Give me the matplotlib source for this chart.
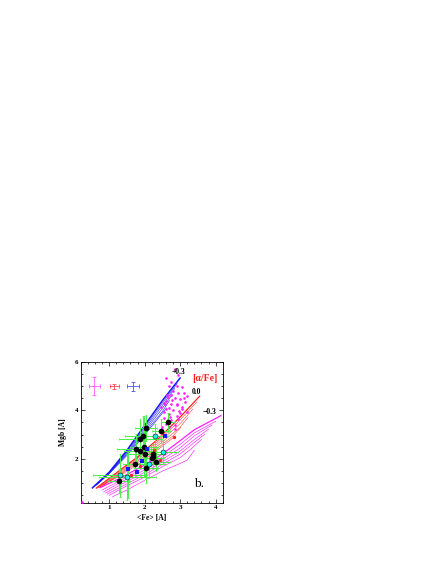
import numpy as np
import matplotlib
matplotlib.use("Agg")
import matplotlib.pyplot as plt

plt.rcParams['font.family'] = ['Liberation Serif', 'DejaVu Serif']

# model grids, one list per line: first entry of each family is the heavy one
blue_x = [
    [0.53, 1.0, 1.5, 2.0, 2.5, 3.0],
    [0.55, 1.0, 1.5, 2.0, 2.5, 2.92],
    [0.58, 1.0, 1.5, 2.0, 2.5, 2.85],
    [0.62, 1.0, 1.5, 2.0, 2.5, 2.78],
    [0.66, 1.0, 1.5, 2.0, 2.5, 2.7],
    [0.7, 1.0, 1.5, 2.0, 2.4, 2.62],
]
blue_y = [
    [0.81, 1.45, 2.35, 3.38, 4.4, 5.33],
    [0.83, 1.43, 2.3, 3.3, 4.3, 5.1],
    [0.86, 1.42, 2.26, 3.22, 4.2, 4.9],
    [0.9, 1.41, 2.22, 3.14, 4.08, 4.65],
    [0.95, 1.4, 2.18, 3.06, 3.95, 4.4],
    [1.0, 1.39, 2.14, 2.98, 3.7, 4.1],
]
red_x = [
    [0.64, 1.2, 1.8, 2.4, 3.0, 3.55],
    [0.68, 1.2, 1.8, 2.4, 3.0, 3.48],
    [0.72, 1.2, 1.8, 2.4, 3.0, 3.36],
    [0.76, 1.2, 1.8, 2.4, 3.0, 3.22],
    [0.8, 1.2, 1.8, 2.4, 2.8, 3.02],
    [0.85, 1.2, 1.8, 2.3, 2.7, 2.87],
]
red_y = [
    [0.8, 1.42, 2.08, 2.85, 3.72, 4.58],
    [0.8, 1.37, 2.02, 2.76, 3.6, 4.35],
    [0.82, 1.32, 1.96, 2.67, 3.45, 4.05],
    [0.85, 1.28, 1.9, 2.58, 3.3, 3.7],
    [0.9, 1.25, 1.84, 2.48, 2.95, 3.3],
    [0.95, 1.22, 1.76, 2.3, 2.75, 2.95],
]
mag_x = [
    [0.75, 1.3, 2.0, 2.5, 3.0, 3.4, 4.15],
    [0.8, 1.3, 2.0, 2.5, 3.0, 3.4, 4.0],
    [0.85, 1.3, 2.0, 2.5, 3.0, 3.4, 3.9],
    [0.9, 1.3, 2.0, 2.5, 3.0, 3.4, 3.8],
    [0.95, 1.4, 2.0, 2.5, 3.0, 3.4, 3.7],
    [1.0, 1.4, 2.0, 2.5, 3.0, 3.3, 3.6],
    [1.1, 1.5, 2.0, 2.5, 2.9, 3.2, 3.4],
]
mag_y = [
    [0.82, 1.2, 1.75, 2.2, 2.75, 3.2, 3.78],
    [0.72, 1.1, 1.65, 2.08, 2.6, 3.07, 3.55],
    [0.65, 1.02, 1.55, 1.98, 2.45, 2.95, 3.4],
    [0.6, 0.92, 1.45, 1.88, 2.32, 2.8, 3.22],
    [0.55, 0.9, 1.35, 1.78, 2.2, 2.68, 3.02],
    [0.5, 0.82, 1.25, 1.68, 2.05, 2.4, 2.8],
    [0.45, 0.72, 1.12, 1.5, 1.75, 1.95, 2.35],
]

# scatter of small magenta points
pts_x = [0.25, 2.6, 2.75, 2.85, 2.95, 2.7, 2.9, 3.05, 2.8, 2.95, 3.1, 3.2, 2.65, 2.85, 3.0,
         3.15, 2.55, 2.75, 2.9, 3.05, 2.6, 2.8, 3.0, 2.7, 2.9, 2.55, 2.75, 2.95, 2.6, 2.5,
         2.7, 2.85, 3.2, 3.05, 2.6, 2.45, 2.75, 2.55, 2.65, 2.85, 2.78, 2.92, 2.62, 2.68, 3.1,
         2.97, 2.72, 2.58]
pts_y = [0.22, 5.35, 5.15, 5.7, 5.45, 5.0, 5.0, 4.95, 4.8, 4.7, 4.72, 4.6, 4.55, 4.5, 4.45,
         4.35, 4.3, 4.25, 4.2, 4.15, 4.05, 4.0, 3.9, 3.85, 3.75, 3.7, 3.6, 3.65, 3.45, 3.3,
         3.3, 3.4, 3.95, 4.05, 4.4, 4.15, 4.65, 3.95, 3.6, 3.25, 4.42, 4.28, 4.62, 4.1, 4.5,
         3.98, 3.72, 4.25]

# green measurements with errors
gr_x = [1.28, 1.31, 1.51, 1.53, 1.73, 1.77, 1.87, 1.88, 1.96, 1.98, 2.02, 2.04, 2.04, 2.13, 2.23, 2.25, 2.3, 2.32, 2.46, 2.53, 2.67]
gr_y = [1.10, 1.32, 1.27, 1.34, 1.81, 2.41, 2.34, 2.84, 2.93, 2.51, 2.22, 3.27, 1.63, 1.81, 2.22, 2.04, 2.95, 1.89, 3.16, 2.29, 3.51]
gr_xe = [0.3, 0.75, 0.8, 0.45, 0.35, 0.55, 0.45, 0.6, 0.5, 0.4, 0.55, 0.3, 0.35, 0.45, 0.35, 0.3, 0.35, 0.4, 0.25, 0.4, 0.2]
gr_ye = [0.5, 0.9, 0.95, 0.95, 0.55, 0.6, 0.5, 0.8, 0.85, 1.25, 0.7, 0.55, 0.6, 0.6, 0.4, 0.45, 0.5, 0.4, 0.5, 0.5, 0.4]

# black, cyan, blue and red symbols
black_x = [1.28, 2.04, 2.67, 2.46, 1.96, 1.88, 1.77, 1.98, 1.87, 2.02, 1.73, 2.23, 2.25, 2.22, 2.32, 2.04]
black_y = [1.10, 3.27, 3.51, 3.16, 2.93, 2.84, 2.41, 2.51, 2.34, 2.22, 1.81, 2.22, 2.08, 2.04, 1.89, 1.63]
cyan_x = [1.31, 1.51, 2.30, 2.53, 2.13]
cyan_y = [1.32, 1.27, 2.95, 2.29, 1.81]
bsq_x = [1.52, 1.78, 1.92, 2.08, 2.58]
bsq_y = [1.59, 1.47, 1.93, 2.41, 2.93]
red_pt_x = [2.82, 2.43, 1.63, 1.87, 2.27]
red_pt_y = [2.89, 1.95, 1.36, 1.70, 2.38]

# the three sample error crosses
cross_x = [0.585, 1.15, 1.68]
cross_y = [5.01, 4.99, 4.99]
cross_xe = [0.15, 0.13, 0.17]
cross_ye = [0.36, 0.1, 0.19]
cross_c = ['#ff40ff', '#ff3030', '#3030ff']

MAG = '#ff20ff'
RED = '#ff2020'
BLUE = '#1818ff'
GREEN = '#48f048'

fig = plt.figure(figsize=(4.36, 5.64), dpi=100)
ax = fig.add_axes([80.7/436, 1-502.7/564, 142/436, 141/564])

for i in range(len(mag_x)):
    ax.plot(mag_x[i], mag_y[i], color=MAG, lw=0.9 if i == 0 else 0.45, zorder=2)
for i in range(len(red_x)):
    ax.plot(red_x[i], red_y[i], color=RED, lw=0.9 if i == 0 else 0.35, zorder=2)
for i in range(len(blue_x)):
    ax.plot(blue_x[i], blue_y[i], color=BLUE, lw=1.1 if i == 0 else 0.4, zorder=2)

ax.plot(pts_x, pts_y, ls='none', marker='o', ms=1.9, mew=0, color=MAG, zorder=3, clip_on=False)

ax.errorbar(gr_x, gr_y, xerr=gr_xe, yerr=gr_ye, fmt='none', ecolor=GREEN, elinewidth=0.7,
            capsize=1.0, capthick=0.5, zorder=4)

for i in range(3):
    ax.errorbar(cross_x[i], cross_y[i], xerr=cross_xe[i], yerr=cross_ye[i], fmt='none',
                ecolor=cross_c[i], elinewidth=0.5, capsize=1.5, capthick=0.5, zorder=4)

ax.plot(red_pt_x, red_pt_y, ls='none', marker='o', ms=2.4, mew=0, color=RED, zorder=5)
ax.plot(black_x, black_y, ls='none', marker='o', ms=4.1, mew=0, color='black', zorder=6)
ax.plot(bsq_x, bsq_y, ls='none', marker='s', ms=2.6, mew=0, color=BLUE, zorder=7)
ax.plot(cyan_x, cyan_y, ls='none', marker='o', ms=3.6, mew=0.4, mfc='#20f0f0', mec='black', zorder=7)

ax.set_xlim(0.2, 4.2)
ax.set_ylim(0.2, 6)

ax.set_xticks([1, 2, 3, 4])
ax.set_xticks(np.arange(0.2, 4.21, 0.2), minor=True)
ax.set_yticks([2, 4, 6])
ax.set_yticks(np.arange(0.5, 6.01, 0.5), minor=True)
ax.tick_params(which='major', direction='in', length=3, width=0.5, top=True, right=True, labelsize=5, pad=2)
ax.tick_params(which='minor', direction='in', length=1.5, width=0.5, top=True, right=True)
for lab in ax.get_xticklabels() + ax.get_yticklabels():
    lab.set_fontweight('bold')
for s in ax.spines.values():
    s.set_linewidth(0.6)

ax.set_xlabel('<Fe> [A]', fontsize=5.5, fontweight='bold', labelpad=2.5)
ax.set_ylabel('Mgb [A]', fontsize=5.5, fontweight='bold', labelpad=5)

ax.text(2.76, 5.58, '+0.3', fontsize=5.5, fontweight='bold', va='center', zorder=8)
ax.text(3.33, 4.75, '0.0', fontsize=5.5, fontweight='bold', va='center', zorder=8)
ax.text(3.63, 3.93, '\u22120.3', fontsize=5.5, fontweight='bold', va='center', zorder=8)
ax.text(3.35, 5.31, '[\u03b1/Fe]', fontsize=7, fontweight='bold', color=RED, va='center', zorder=8)
ax.text(3.38, 0.97, 'b.', fontsize=9.5, va='center', zorder=8)

fig.savefig('out.png', dpi=100)
